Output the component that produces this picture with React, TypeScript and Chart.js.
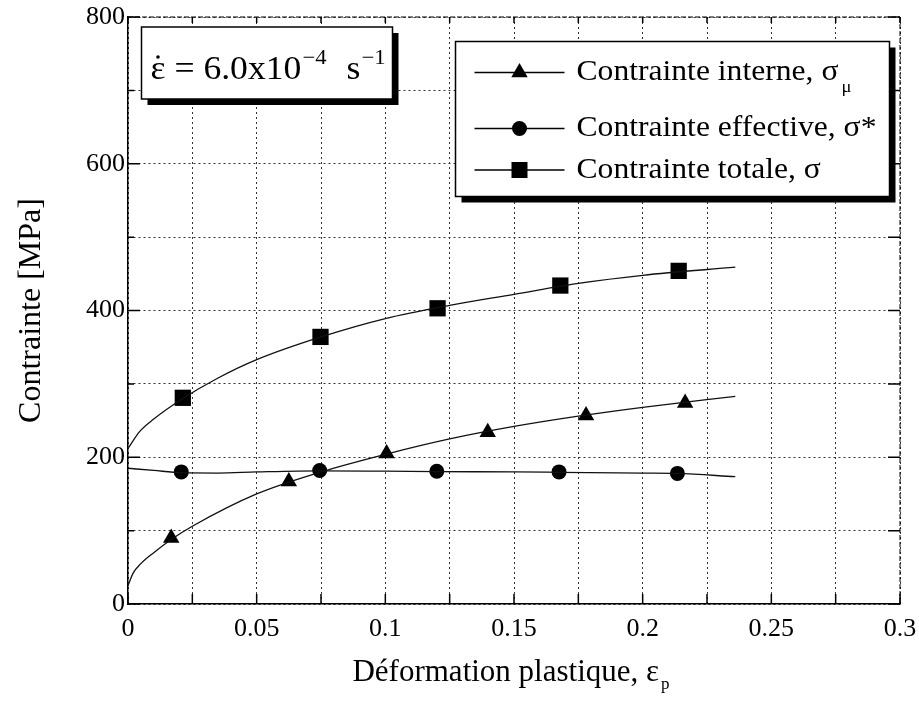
import React, { useEffect, useRef } from "react";
import { Chart, registerables } from "chart.js";

Chart.register(...registerables);

const FONT = "'Liberation Serif', 'Times New Roman', serif";

// tick labels
const xTickLabels = ["0", "0.05", "0.1", "0.15", "0.2", "0.25", "0.3"];
const yTickLabels = ["0", "200", "400", "600", "800"];

// measured points
const internalX = [0.0168, 0.0625, 0.1005, 0.1398, 0.178, 0.2165];
const internalY = [90, 167, 205, 234, 257, 274];
const effectiveX = [0.0207, 0.0745, 0.12, 0.1675, 0.2135];
const effectiveY = [180, 182, 181, 180, 178];
const totalX = [0.0213, 0.0748, 0.1203, 0.168, 0.214];
const totalY = [281, 364, 403, 434, 454];

// fitted curves
const internalCurveX = [0, 0.002, 0.005, 0.01, 0.0168, 0.025, 0.05, 0.075, 0.1, 0.125, 0.15, 0.175, 0.2, 0.236];
const internalCurveY = [25, 42, 55, 70, 88, 106, 150, 180, 204, 225, 242, 256, 268, 283];
const effectiveCurveX = [0, 0.01, 0.0207, 0.035, 0.05, 0.0745, 0.1, 0.12, 0.15, 0.1675, 0.2, 0.2135, 0.236];
const effectiveCurveY = [185, 182, 179, 178.5, 180, 181.5, 181, 180.5, 180, 179.5, 178.5, 178, 173.5];
const totalCurveX = [0, 0.0045, 0.01, 0.0213, 0.035, 0.05, 0.075, 0.1, 0.125, 0.15, 0.175, 0.2, 0.236];
const totalCurveY = [212, 235, 252, 280, 308, 333, 364, 389, 407, 422, 437, 448, 459];

const legendLabels = ["Contrainte interne, σ", "Contrainte effective, σ*", "Contrainte totale, σ"];
const legendSubs = ["μ", "", ""];
const xTitle = "Déformation plastique, ε";
const xTitleSub = "p";
const yTitle = "Contrainte [MPa]";

const pts = (xs: number[], ys: number[]) => xs.map((x, i) => ({ x, y: ys[i] }));

function drawMarker(ctx: CanvasRenderingContext2D, style: string, x: number, y: number) {
  ctx.save();
  ctx.fillStyle = "#000";
  ctx.beginPath();
  if (style === "triangle") {
    const r = 9.5;
    ctx.moveTo(x, y - r);
    ctx.lineTo(x + r * 0.866, y + r * 0.5);
    ctx.lineTo(x - r * 0.866, y + r * 0.5);
    ctx.closePath();
  } else if (style === "circle") {
    ctx.arc(x, y, 7.5, 0, Math.PI * 2);
  } else {
    ctx.rect(x - 8, y - 8, 16, 16);
  }
  ctx.fill();
  ctx.restore();
}

// draw text stretched horizontally by sx, returns drawn width
function stretchText(ctx: CanvasRenderingContext2D, text: string, x: number, y: number, sx: number) {
  ctx.save();
  ctx.translate(x, y);
  ctx.scale(sx, 1);
  ctx.fillText(text, 0, 0);
  ctx.restore();
  return ctx.measureText(text).width * sx;
}

const decorPlugin = {
  id: "decor",
  afterDatasetsDraw(chart: any) {
    const { ctx, chartArea: a, scales } = chart;
    const xs = scales.x;
    const ys = scales.y;
    ctx.save();
    // top and right borders dashed
    ctx.strokeStyle = "#000";
    ctx.lineWidth = 1;
    ctx.setLineDash([5, 2]);
    ctx.beginPath();
    ctx.moveTo(a.left, a.top);
    ctx.lineTo(a.right, a.top);
    ctx.moveTo(a.right, a.top);
    ctx.lineTo(a.right, a.bottom);
    ctx.stroke();
    ctx.setLineDash([]);
    // inner ticks
    ctx.lineWidth = 1.5;
    ctx.beginPath();
    for (let v = 0; v <= 800; v += 100) {
      const py = ys.getPixelForValue(v);
      const major = Math.round(v / 100) % 2 === 0;
      ctx.moveTo(a.left, py);
      ctx.lineTo(a.left + (major ? 12 : 6), py);
      ctx.moveTo(a.right, py);
      ctx.lineTo(a.right - 12, py);
    }
    for (let v = 0; v <= 0.3001; v += 0.025) {
      const px = xs.getPixelForValue(v);
      ctx.moveTo(px, a.bottom);
      ctx.lineTo(px, a.bottom - 10);
      ctx.moveTo(px, a.top);
      ctx.lineTo(px, a.top + 6);
    }
    ctx.stroke();

    // annotation box
    const bx = a.left + 13.5, by = a.top + 10, bw = 251, bh = 72;
    ctx.fillStyle = "#000";
    ctx.fillRect(bx + 6, by + 6, bw, bh);
    ctx.fillStyle = "#fff";
    ctx.fillRect(bx, by, bw, bh);
    ctx.lineWidth = 1.5;
    ctx.strokeStyle = "#000";
    ctx.strokeRect(bx, by, bw, bh);
    ctx.fillStyle = "#000";
    ctx.textBaseline = "alphabetic";
    ctx.textAlign = "left";
    const sxA = 1.08;
    let tx = bx + 9;
    const base = by + 52;
    ctx.font = `33px ${FONT}`;
    const epsW = stretchText(ctx, "ε", tx, base, sxA);
    ctx.beginPath();
    ctx.arc(tx + epsW / 2, base - 22, 1.8, 0, Math.PI * 2);
    ctx.fill();
    tx += epsW;
    tx += stretchText(ctx, " = 6.0x10", tx, base, sxA) + 1;
    ctx.font = `21px ${FONT}`;
    tx += stretchText(ctx, "−4", tx, base - 15, sxA) + 20;
    ctx.font = `33px ${FONT}`;
    tx += stretchText(ctx, "s", tx, base, sxA) + 1;
    ctx.font = `21px ${FONT}`;
    stretchText(ctx, "−1", tx, base - 15, sxA);

    // legend box
    const lx = a.left + 327.5, ly = a.top + 24.5, lw = 434, lh = 155;
    ctx.fillStyle = "#000";
    ctx.fillRect(lx + 6, ly + 6, lw, lh);
    ctx.fillStyle = "#fff";
    ctx.fillRect(lx, ly, lw, lh);
    ctx.lineWidth = 1.5;
    ctx.strokeRect(lx, ly, lw, lh);
    const rows = [ly + 31, ly + 87, ly + 128.5];
    const styles = ["triangle", "circle", "rect"];
    rows.forEach((ry, i) => {
      ctx.lineWidth = 1.3;
      ctx.beginPath();
      ctx.moveTo(lx + 19, ry);
      ctx.lineTo(lx + 109, ry);
      ctx.stroke();
      drawMarker(ctx, styles[i], lx + 64, ry);
      ctx.fillStyle = "#000";
      ctx.font = `29px ${FONT}`;
      ctx.textBaseline = "middle";
      const w = stretchText(ctx, legendLabels[i], lx + 121, ry, 1.09);
      if (legendSubs[i]) {
        ctx.font = `17px ${FONT}`;
        stretchText(ctx, legendSubs[i], lx + 121 + w + 3, ry + 15, 1.09);
      }
    });

    // x title
    ctx.font = `31px ${FONT}`;
    ctx.textBaseline = "alphabetic";
    const wT = ctx.measureText(xTitle).width;
    ctx.font = `17px ${FONT}`;
    const wS = ctx.measureText(xTitleSub).width;
    const cx = (a.left + a.right) / 2;
    const startX = cx - (wT + wS + 2) / 2 - 3;
    ctx.font = `31px ${FONT}`;
    ctx.fillText(xTitle, startX, 681);
    ctx.font = `17px ${FONT}`;
    ctx.fillText(xTitleSub, startX + wT + 2, 689);
    ctx.restore();
  },
};

export default function App() {
  const ref = useRef<HTMLCanvasElement | null>(null);
  useEffect(() => {
    if (!ref.current) return;
    const lineDs = (xs: number[], ys: number[]) => ({
      type: "line" as const,
      data: pts(xs, ys),
      showLine: true,
      borderColor: "#111",
      borderWidth: 1.3,
      pointRadius: 0,
      cubicInterpolationMode: "monotone" as const,
      fill: false,
    });
    const markDs = (xs: number[], ys: number[], style: string, r: number) => ({
      type: "scatter" as const,
      data: pts(xs, ys),
      showLine: false,
      pointStyle: style,
      pointRadius: r,
      pointHoverRadius: r,
      backgroundColor: "#000",
      borderColor: "#000",
      borderWidth: 0,
    });
    const chart = new Chart(ref.current, {
      type: "scatter",
      data: {
        datasets: [
          lineDs(internalCurveX, internalCurveY),
          lineDs(effectiveCurveX, effectiveCurveY),
          lineDs(totalCurveX, totalCurveY),
          markDs(internalX, internalY, "triangle", 9.5),
          markDs(effectiveX, effectiveY, "circle", 7.5),
          markDs(totalX, totalY, "rect", 11.5),
        ] as any,
      },
      options: {
        responsive: false,
        animation: false,
        events: [],
        layout: { padding: { top: 17, right: 19, left: 0, bottom: 0 } },
        plugins: { legend: { display: false }, tooltip: { enabled: false } },
        scales: {
          x: {
            type: "linear",
            min: 0,
            max: 0.3,
            afterFit: (s: any) => {
              s.height = 97;
              s.paddingLeft = 0;
              s.paddingRight = 0;
            },
            ticks: {
              stepSize: 0.025,
              autoSkip: false,
              maxRotation: 0,
              padding: 10,
              color: "#000",
              font: { family: FONT, size: 26 },
              callback: (v: any) => {
                const i = Math.round(Number(v) / 0.025);
                return i % 2 === 0 ? xTickLabels[i / 2] : "";
              },
            },
            grid: { color: "#333", lineWidth: 1, drawTicks: false },
            border: { display: true, color: "#000", width: 1.5, dash: [2, 3] },
          },
          y: {
            type: "linear",
            min: 0,
            max: 800,
            afterFit: (s: any) => {
              s.width = 128;
              s.paddingTop = 0;
              s.paddingBottom = 0;
            },
            title: {
              display: true,
              text: yTitle,
              color: "#000",
              font: { family: FONT, size: 32 },
              padding: { top: 12, bottom: 0 },
            },
            ticks: {
              stepSize: 100,
              autoSkip: false,
              padding: 3,
              color: "#000",
              font: { family: FONT, size: 26 },
              callback: (v: any) => {
                const i = Math.round(Number(v) / 100);
                return i % 2 === 0 ? yTickLabels[i / 2] : "";
              },
            },
            grid: { color: "#333", lineWidth: 1, drawTicks: false },
            border: { display: true, color: "#000", width: 1.5, dash: [2, 3] },
          },
        },
      },
      plugins: [decorPlugin],
    });
    return () => chart.destroy();
  }, []);
  return (
    <canvas
      ref={ref}
      width={919}
      height={701}
      style={{ position: "absolute", left: 0, top: 0, display: "block", background: "#fff" }}
    />
  );
}
